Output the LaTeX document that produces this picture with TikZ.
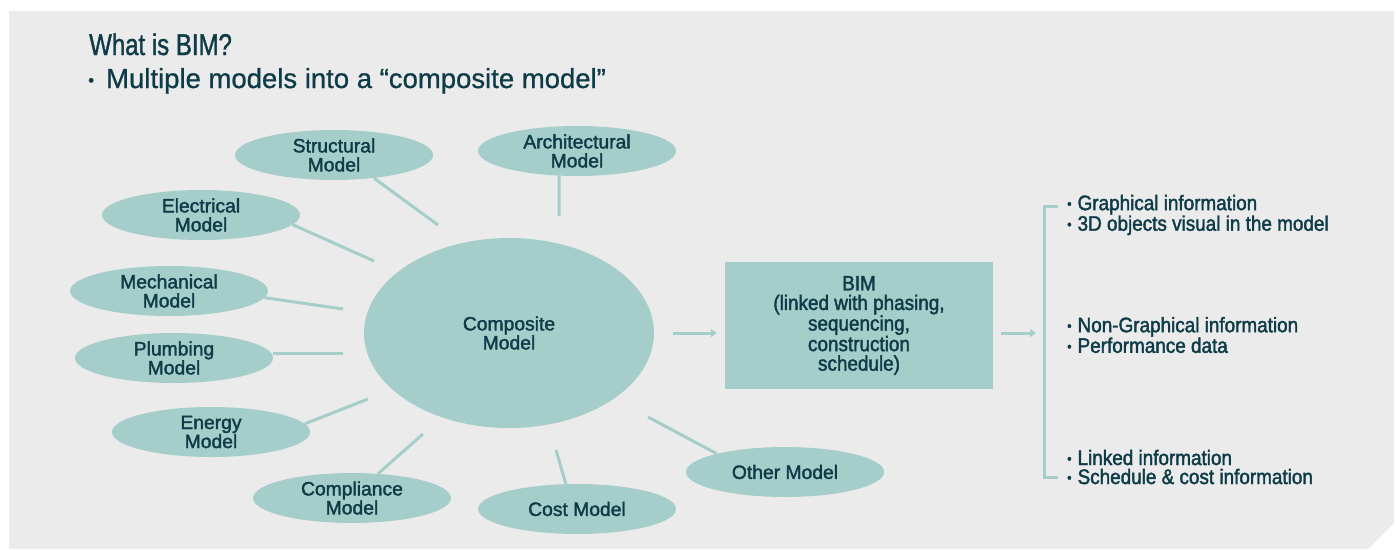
\documentclass[tikz,border=0pt]{standalone}
\usepackage{fontspec}
\setmainfont{Liberation Sans}
\newfontfamily\medfont[FakeBold=1.8]{Liberation Sans}
\newfontfamily\subfont[FakeBold=0.8]{Liberation Sans}
\newfontfamily\condfont[FakeStretch=0.80,FakeBold=1.2]{Liberation Sans}
\newfontfamily\narrowfont[FakeStretch=0.90,FakeBold=1.8]{Liberation Sans}
\usetikzlibrary{shapes.geometric,arrows.meta}
\definecolor{bgc}{HTML}{EBEBEB}
\definecolor{teal}{HTML}{A5CDCA}
\definecolor{ink}{HTML}{0D3B47}
\tikzset{
  model/.style={ellipse, fill=teal, draw=none, inner sep=0pt, minimum width=198pt, minimum height=50pt,
    align=center, text=ink, font=\medfont\fontsize{19.3}{19}\selectfont},
  link/.style={draw=teal, line width=3pt},
  flow/.style={draw=teal, line width=3pt, -{Triangle[length=6pt,width=8pt]}},
  bullets/.style={anchor=west, align=left, text=ink, inner sep=0pt, font=\narrowfont\fontsize{21}{19}\selectfont}
}
\newcommand{\smallbul}{\raisebox{1.5pt}{\fontsize{14}{14}\selectfont •}\hspace{6pt}}
\begin{document}
\begin{tikzpicture}[x=1pt,y=-1pt]
\useasboundingbox (0,0) rectangle (1396,549);
\fill[bgc] (9,11) -- (1394,11) -- (1394,523) -- (1368,549) -- (9,549) -- cycle;

\node[anchor=base west, inner sep=0pt, text=ink, font=\condfont\fontsize{30}{30}\selectfont] (title) at (89,55) {What is BIM?};
\node[anchor=base west, inner sep=0pt, text=ink, font=\subfont\fontsize{27.5}{27}\selectfont] (sub) at (88,88) {\raisebox{2pt}{\fontsize{17}{17}\selectfont •}\hspace{12pt}Multiple models into a “composite model”};

\node[model, minimum width=290pt, minimum height=190pt] (comp) at (509,333) {Composite\\Model};

\node[model] (struct) at (334,155) {Structural\\Model};
\node[model] (arch) at (577,151) {Architectural\\Model};
\node[model] (elec) at (201,215) {Electrical\\Model};
\node[model] (mech) at (169,291) {Mechanical\\Model};
\node[model] (plumb) at (174,358) {Plumbing\\Model};
\node[model] (energy) at (211,432) {Energy\\Model};
\node[model] (compl) at (352,498) {Compliance\\Model};
\node[model] (cost) at (577,509) {Cost Model};
\node[model] (other) at (785,472) {Other Model};

\coordinate (cS) at (438,225);
\coordinate (cA) at (559,216);
\coordinate (cE) at (374,261);
\coordinate (cM) at (343,309);
\coordinate (cP) at (343,353);
\coordinate (cN) at (368,399);
\coordinate (cC) at (423,434);
\coordinate (cK) at (556,450);
\coordinate (cO) at (648,417);

\draw[link] (struct.-30) -- (cS);
\draw[link] (arch.-126) -- (cA);
\draw[link] (elec.-6) -- (cE);
\draw[link] (mech.-4) -- (cM);
\draw[link] (plumb.east |- cP) -- (cP);
\draw[link] (energy.5) -- (cN);
\draw[link] (compl.43) -- (cC);
\draw[link] (cost.114) -- (cK);
\draw[link] (other.165) -- (cO);

\node[rectangle, fill=teal, inner sep=0pt, minimum width=268pt, minimum height=127pt, align=center, text=ink,
  font=\narrowfont\fontsize{21}{19.5}\selectfont] (bim) at (859,325.5)
  {BIM\\(linked with phasing,\\sequencing,\\construction\\schedule)};

\coordinate (a1s) at (673,333);
\coordinate (a2e) at (1036,333);
\draw[flow, shorten >=8pt] (a1s) -- (bim.west |- a1s);
\draw[flow, shorten <=8pt] (bim.east |- a2e) -- (a2e);

\coordinate (bt) at (1058,206);
\coordinate (bb) at (1058,477);
\draw[link] (bt) -- (1044,206) -- (1044,477) -- (bb);

\node[bullets] (g1) at (1067,215) {\smallbul Graphical information\\\smallbul 3D objects visual in the model};
\node[bullets] (g2) at (1067,335) {\smallbul Non-Graphical information\\\smallbul Performance data};
\node[bullets] (g3) at (1067,467) {\smallbul Linked information\\\smallbul Schedule \& cost information};
\end{tikzpicture}
\end{document}
